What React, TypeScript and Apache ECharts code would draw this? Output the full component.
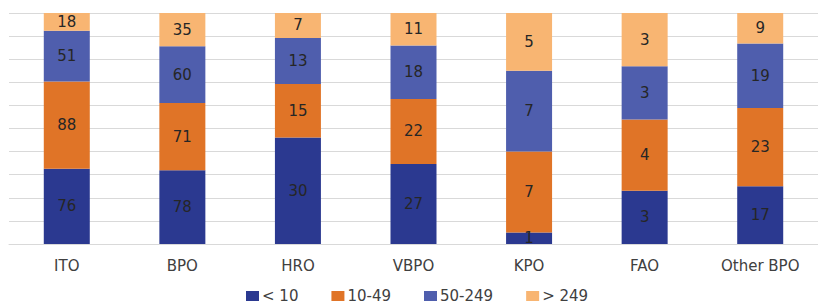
import React, { useEffect, useRef } from "react";
import * as echarts from "echarts";

const categories = ["ITO", "BPO", "HRO", "VBPO", "KPO", "FAO", "Other BPO"];
const seriesNames = ["< 10", "10-49", "50-249", "> 249"];
const lt10 = [76, 78, 30, 27, 1, 3, 17];
const s10to49 = [88, 71, 15, 22, 7, 4, 23];
const s50to249 = [51, 60, 13, 18, 7, 3, 19];
const gt249 = [18, 35, 7, 11, 5, 3, 9];
const colors = ["#2B3990", "#E07427", "#4F5EAD", "#F8B572"];
const FONT = "DejaVu Sans";

export default function App() {
  const ref = useRef<HTMLDivElement>(null);
  useEffect(() => {
    if (!ref.current) return;
    const chart = echarts.init(ref.current, undefined, { renderer: "svg" });
    const raw = [lt10, s10to49, s50to249, gt249];
    const totals = categories.map((_, i) => raw.reduce((s, arr) => s + arr[i], 0));
    const series = raw.map((arr, si) => ({
      name: seriesNames[si],
      type: "bar",
      stack: "total",
      barWidth: 46,
      itemStyle: { color: colors[si] },
      label: {
        show: true,
        position: "inside",
        color: "#262626",
        fontSize: 15,
        fontFamily: FONT,
        formatter: (p: any) => String(arr[p.dataIndex]),
      },
      data: arr.map((v, i) => (v / totals[i]) * 100),
    }));
    chart.setOption({
      animation: false,
      grid: { left: 9, right: -11, top: 13, bottom: 61 },
      legend: {
        top: 288,
        left: 246,
        padding: 0,
        itemWidth: 13,
        itemHeight: 10,
        itemGap: 33,
        icon: "rect",
        textStyle: {
          fontSize: 15,
          lineHeight: 16,
          color: "#404040",
          fontFamily: FONT,
          padding: [0, 0, 0, -2],
        },
        data: seriesNames,
      },
      xAxis: {
        type: "category",
        data: categories,
        axisLine: { lineStyle: { color: "#d9d9d9" } },
        axisTick: { show: false },
        axisLabel: { fontSize: 15, color: "#404040", margin: 14, fontFamily: FONT },
      },
      yAxis: {
        type: "value",
        min: 0,
        max: 100,
        interval: 10,
        axisLabel: { show: false },
        axisLine: { show: false },
        splitLine: { lineStyle: { color: "#d9d9d9", width: 1 } },
      },
      series,
    });
    return () => chart.dispose();
  }, []);
  return (
    <div
      ref={ref}
      style={{ position: "absolute", left: 0, top: 0, width: 818, height: 305 }}
    />
  );
}
